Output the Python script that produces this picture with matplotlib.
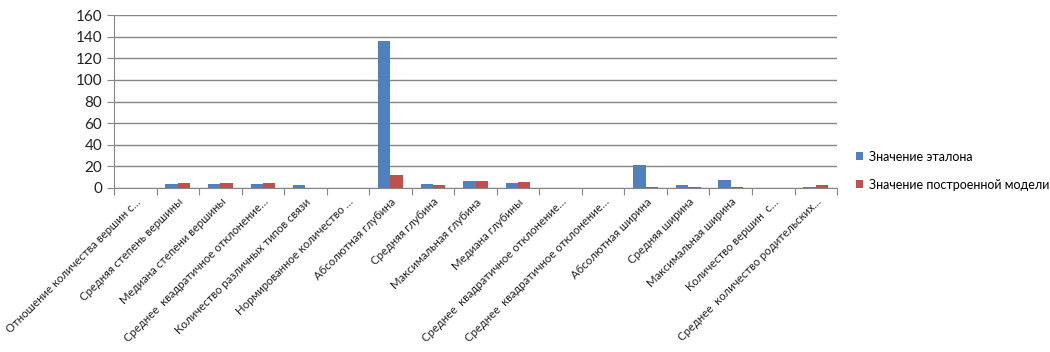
import numpy as np
import matplotlib.pyplot as plt
import matplotlib.ticker as ticker

plt.rcParams['font.family'] = ['Lato', 'DejaVu Sans']

categories = [
    'Отношение количества вершин с…',
    'Средняя степень вершины',
    'Медиана степени вершины',
    'Среднее  квадратичное отклонение…',
    'Количество различных типов связи',
    'Нормированное количество …',
    'Абсолютная глубина',
    'Средняя глубина',
    'Максимальная глубина',
    'Медиана глубины',
    'Среднее  квадратичное отклонение…',
    'Среднее  квадратичное отклонение…',
    'Абсолютная ширина',
    'Средняя ширина',
    'Максимальная ширина',
    'Количество вершин  с…',
    'Среднее  количество родительских…',
]
reference_values = [0, 3.5, 3.5, 3.5, 2.5, 0, 136, 4, 6, 5, 0, 0, 21, 2.5, 7, 0, 1]
model_values = [0, 5, 5, 4.5, 0, 0, 12, 3, 6.5, 5.5, 0, 0, 1, 1, 1, 0, 2.5]
series_labels = ['Значение эталона', 'Значение построенной модели']

BLUE = '#4F81BD'
RED = '#C0504D'
GRID = '#868686'

fig = plt.figure(figsize=(10.5, 3.52), dpi=100)
ax = fig.add_axes([0.1086, 0.466, 0.6886, 0.491])

x = np.arange(len(categories))
width = 0.29
ax.bar(x - width / 2, reference_values, width, color=BLUE, label=series_labels[0], zorder=3)
ax.bar(x + width / 2, model_values, width, color=RED, label=series_labels[1], zorder=3)

ax.set_xlim(-0.5, len(categories) - 0.5)
ax.set_ylim(0, 160)
ax.yaxis.set_major_locator(ticker.MultipleLocator(20))
ax.grid(axis='y', color=GRID, linewidth=1, zorder=0)

for side in ('top', 'right'):
    ax.spines[side].set_visible(False)
for side in ('left', 'bottom'):
    ax.spines[side].set_color(GRID)

# category boundary ticks, Excel style
ax.set_xticks(np.arange(len(categories) + 1) - 0.5)
ax.set_xticklabels([])
ax.set_xticks(x, minor=True)
ax.set_xticklabels(categories, minor=True, rotation=45, ha='right',
                   rotation_mode='anchor', fontsize=8.2, color='#222222')
ax.tick_params(axis='x', which='minor', length=0, pad=6)
ax.tick_params(axis='x', which='major', length=5, color=GRID)
ax.tick_params(axis='y', length=5, color=GRID, labelsize=11, labelcolor='#222222')

ax.legend(loc='center left', bbox_to_anchor=(1.01, 0.1), frameon=False,
          fontsize=9, handlelength=0.6, handleheight=0.6, handletextpad=0.5,
          labelspacing=1.3)

fig.savefig('out.png', dpi=100)
